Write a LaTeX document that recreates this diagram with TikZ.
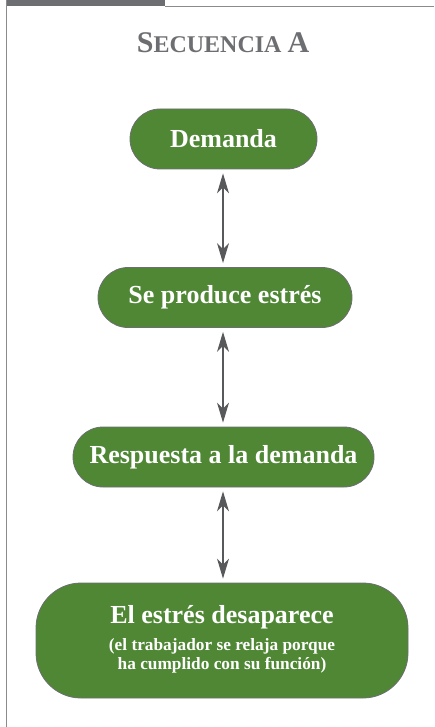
\documentclass[tikz,border=0pt]{standalone}
\usepackage{fontspec}
\setmainfont{Liberation Serif}
\usetikzlibrary{arrows.meta}
\definecolor{boxgreen}{HTML}{4F8735}
\definecolor{framegray}{HTML}{6D6E71}
\definecolor{linegray}{HTML}{8A8B8D}
\definecolor{arrowgray}{HTML}{58595B}
\begin{document}
\begin{tikzpicture}[x=1pt,y=-1pt,
  box/.style={draw=framegray, line width=0.8pt, fill=boxgreen, text=white,
    font=\fontsize{26}{28}\selectfont\bfseries, inner sep=0pt, align=center,
    rectangle, minimum height=60pt, rounded corners=30pt},
  tip/.tip={Stealth[length=20pt,width=12pt,inset=6pt]},
  link/.style={draw=arrowgray, line width=1.2pt, tip-tip, shorten <=4pt, shorten >=4pt}]
\useasboundingbox (0,0) rectangle (434,727);
% frame
\fill[framegray] (6,0) rectangle (165,6.5);
\draw[linegray, line width=1.2pt] (165,6.6) -- (434,6.6);
\draw[linegray, line width=1.2pt] (6.6,0) -- (6.6,727);
% title
\node[anchor=base, text=framegray, font=\bfseries, inner sep=0pt] (title) at (223,53)
  {\fontsize{30}{30}\selectfont S\fontsize{24}{24}\selectfont ECUENCIA \fontsize{30}{30}\selectfont A};
% boxes
\node[box, minimum width=187pt] (d) at (223.5,139) {Demanda};
\node[box, minimum width=254pt] (s) at (225,297.5) {Se produce estrés};
\node[box, minimum width=301pt] (r) at (223.5,457) {Respuesta a la demanda};
\node[box, minimum width=372pt, minimum height=115pt, rounded corners=45pt] (e) at (222,640.5)
  {El estrés desaparece\\[7pt]
   {\fontsize{17.3}{19}\selectfont\begin{tabular}{@{}c@{}}(el trabajador se relaja porque\\ha cumplido con su función)\end{tabular}}};
% connectors
\draw[link] (d.south -| 223,0) -- (s.north -| 223,0);
\draw[link] (s.south -| 223,0) -- (r.north -| 223,0);
\draw[link] (r.south -| 223,0) -- (e.north -| 223,0);
\end{tikzpicture}
\end{document}
